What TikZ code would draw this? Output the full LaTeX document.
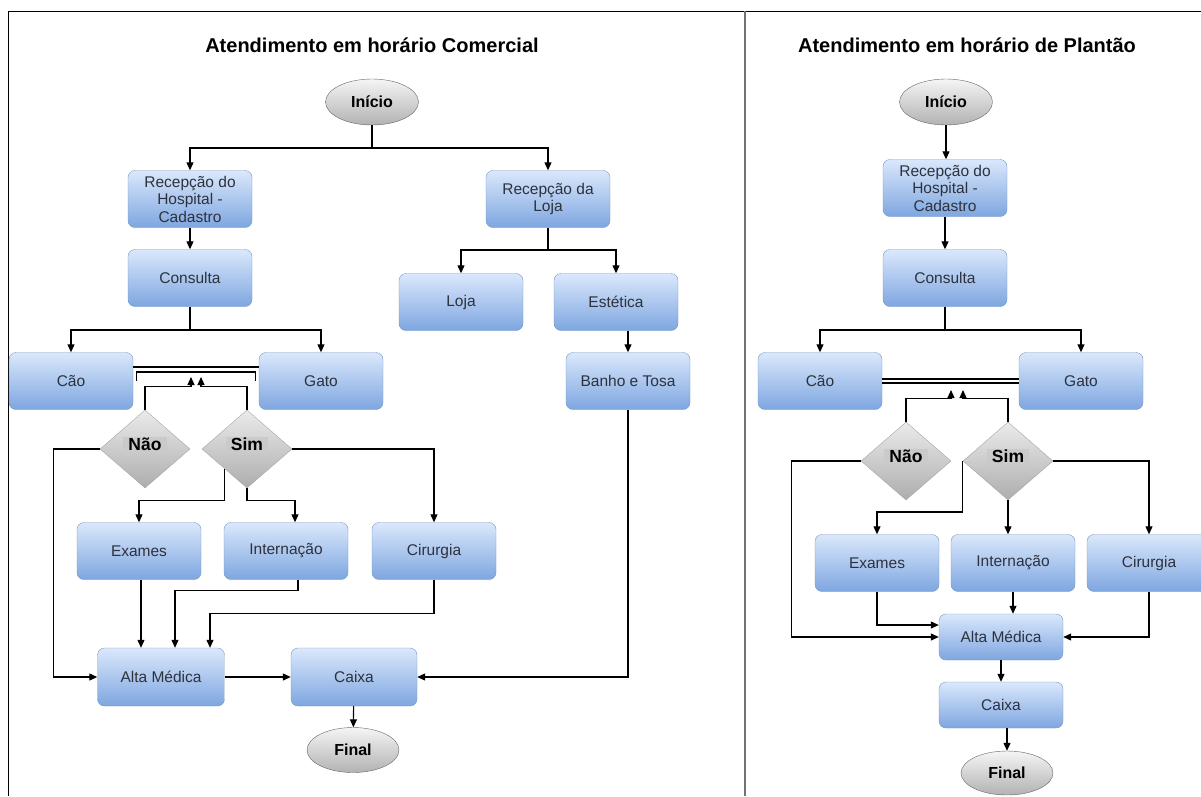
\documentclass[tikz,border=0pt]{standalone}
\usepackage{fontspec}
\setmainfont{Liberation Sans}
\usetikzlibrary{shapes.geometric,arrows.meta}
\definecolor{boxtop}{RGB}{218,232,252}
\definecolor{boxbot}{RGB}{126,166,224}
\definecolor{boxline}{RGB}{120,150,190}
\definecolor{boxtext}{RGB}{45,50,60}
\definecolor{graytop}{RGB}{245,245,245}
\definecolor{graybot}{RGB}{178,178,178}
\definecolor{lblfill}{RGB}{202,202,202}

\begin{document}
\begin{tikzpicture}[x=1pt, y=-1pt,
        box/.style={rectangle, rounded corners=7pt, draw=boxline, top color=boxtop, bottom color=boxbot,
                text=boxtext, align=center, inner sep=2pt, minimum width=124pt, minimum height=57pt,
                font=\fontsize{15.5}{17.5}\selectfont},
        term/.style={ellipse, draw=black!60, top color=graytop, bottom color=graybot, inner sep=0pt,
                minimum width=93pt, minimum height=46pt, font=\fontsize{16}{18}\selectfont\bfseries},
        decision/.style={diamond, draw=black!35, top color=black!8, bottom color=black!32, inner sep=0pt,
                minimum width=90pt, minimum height=78pt},
        lblbox/.style={fill=lblfill, inner xsep=5pt, inner ysep=1pt, text height=12.5pt, text depth=1.5pt,
                font=\fontsize{17.5}{19}\selectfont\bfseries},
        title/.style={font=\fontsize{20}{24}\selectfont\bfseries},
        flow/.style={-{Triangle[length=8pt,width=7pt]}, line width=1.1pt},
        link/.style={line width=1.1pt}]
        \useasboundingbox (0,0) rectangle (1201,796);
        \draw[line width=1pt] (8,796) -- (8,11) -- (1201,11);
        \draw[line width=2pt, black!55] (745,11) -- (745,796);

        \node[title] (tit1) at (372,45) {Atendimento em horário Comercial};
        \node[title] (tit2) at (967,45) {Atendimento em horário de Plantão};

        \node[term] (ini1) at (372,102) {Início};
        \node[box] (rech1) at (190,199) {Recepção do\\Hospital -\\Cadastro};
        \node[box] (cons1) at (190,278) {Consulta};
        \node[box] (cao1) at (71,381) {Cão};
        \node[box] (gato1) at (321,381) {Gato};
        \node[decision] (nao1) at (145,449) {};
        \node[lblbox] (nao1t) at (145,445) {Não};
        \node[decision] (sim1) at (247,449) {};
        \node[lblbox] (sim1t) at (247,445) {Sim};
        \node[box] (exa1) at (139,551) {Exames};
        \node[box] (int1) at (286,551) {Internação};
        \node[box] (cir1) at (434,551) {Cirurgia};
        \node[box, minimum width=127pt, minimum height=58pt] (alta1) at (161,677) {Alta Médica};
        \node[box, minimum width=126pt, minimum height=58pt] (caixa1) at (354,677) {Caixa};
        \node[term, minimum width=92pt, minimum height=45pt] (fim1) at (353,750) {Final};
        \node[box] (recl1) at (548,199) {Recepção da\\Loja};
        \node[box] (loja1) at (461,302) {Loja};
        \node[box] (est1) at (616,302) {Estética};
        \node[box] (banho1) at (628,381) {Banho e Tosa};

        \coordinate (split1) at (372,148);
        \coordinate (split2) at (190,330);
        \coordinate (split3) at (548,250);
        \coordinate (tgt1a) at (191,377);
        \coordinate (tgt1b) at (201,377);

        \draw[link] (ini1) -- (split1);
        \draw[flow] (split1) -| (rech1);
        \draw[flow] (split1) -| (recl1);
        \draw[flow] (rech1) -- (cons1);
        \draw[link] (cons1) -- (split2);
        \draw[flow] (split2) -| (cao1);
        \draw[flow] (split2) -| (gato1);
        \draw[link] ([yshift=14pt]cao1.east) -- ([yshift=14pt]gato1.west);
        \draw[link] ([xshift=3pt]cao1.east) -- ++(0,-9) -| ([xshift=-3pt]gato1.west);
        \draw[flow] (nao1.north) -- ++(0,-23) -| (tgt1a);
        \draw[flow] (sim1.north) -- ++(0,-23) -| (tgt1b);
        \draw[flow] (nao1.west) -- ++(-46,0) |- (alta1.west);
        \draw[flow] (sim1.east) -| (cir1.north);
        \draw[flow] (sim1.south west) -- ++(0,32) -| (exa1.north);
        \draw[flow] (sim1.south) -- ++(0,12) -| ([xshift=9pt]int1.north);
        \draw[flow] ([xshift=2pt]exa1.south) -- ([xshift=2pt]exa1.south |- alta1.north);
        \draw[flow] ([xshift=12pt]int1.south) -- ++(0,11) -| ([xshift=14pt]alta1.north);
        \draw[flow] (cir1.south) -- ++(0,34) -| ([xshift=49pt]alta1.north);
        \draw[flow] (alta1) -- (caixa1);
        \draw[flow] (caixa1) -- (fim1);
        \draw[link] (recl1) -- (split3);
        \draw[flow] (split3) -| (loja1);
        \draw[flow] (split3) -| (est1);
        \draw[flow] (est1.south -| banho1) -- (banho1);
        \draw[flow] (banho1.south) |- (caixa1.east);

        \node[term] (ini2) at (946,102) {Início};
        \node[box] (rech2) at (945,188) {Recepção do\\Hospital -\\Cadastro};
        \node[box] (cons2) at (945,278) {Consulta};
        \node[box] (cao2) at (820,381) {Cão};
        \node[box] (gato2) at (1081,381) {Gato};
        \node[decision] (nao2) at (906,461) {};
        \node[lblbox] (nao2t) at (906,457) {Não};
        \node[decision] (sim2) at (1008,461) {};
        \node[lblbox] (sim2t) at (1008,457) {Sim};
        \node[box] (exa2) at (877,563) {Exames};
        \node[box] (int2) at (1013,563) {Internação};
        \node[box] (cir2) at (1149,563) {Cirurgia};
        \node[box, minimum height=46pt] (alta2) at (1001,637) {Alta Médica};
        \node[box, minimum height=46pt] (caixa2) at (1001,705) {Caixa};
        \node[term, minimum width=92pt, minimum height=44pt] (fim2) at (1007,773) {Final};

        \coordinate (split4) at (945,330);
        \coordinate (tgt2a) at (951,390);
        \coordinate (tgt2b) at (963,390);

        \draw[flow] (ini2) -- (ini2 |- rech2.north);
        \draw[flow] (rech2) -- (cons2);
        \draw[link] (cons2) -- (split4);
        \draw[flow] (split4) -| (cao2);
        \draw[flow] (split4) -| (gato2);
        \draw[link] ([yshift=2pt]cao2.east) -- ([yshift=2pt]gato2.west);
        \draw[link] ([yshift=-2pt]cao2.east) -- ([yshift=-2pt]gato2.west);
        \draw[flow] (nao2.north) -- ++(0,-23) -| (tgt2a);
        \draw[flow] (sim2.north) -- ++(0,-23) -| (tgt2b);
        \draw[flow] (nao2.west) -- ++(-69,0) |- (alta2.west);
        \draw[flow] (sim2.east) -| (cir2.north);
        \draw[flow] (sim2.west) -- ++(0,51) -| (exa2.north);
        \draw[flow] (sim2.south) -- (sim2.south |- int2.north);
        \draw[flow] (exa2.south) |- ([yshift=12pt]alta2.west);
        \draw[flow] (int2.south) -- (int2.south |- alta2.north);
        \draw[flow] (cir2.south) |- (alta2.east);
        \draw[flow] (alta2) -- (caixa2);
        \draw[flow] (caixa2.south -| fim2) -- (fim2);
\end{tikzpicture}
\end{document}
